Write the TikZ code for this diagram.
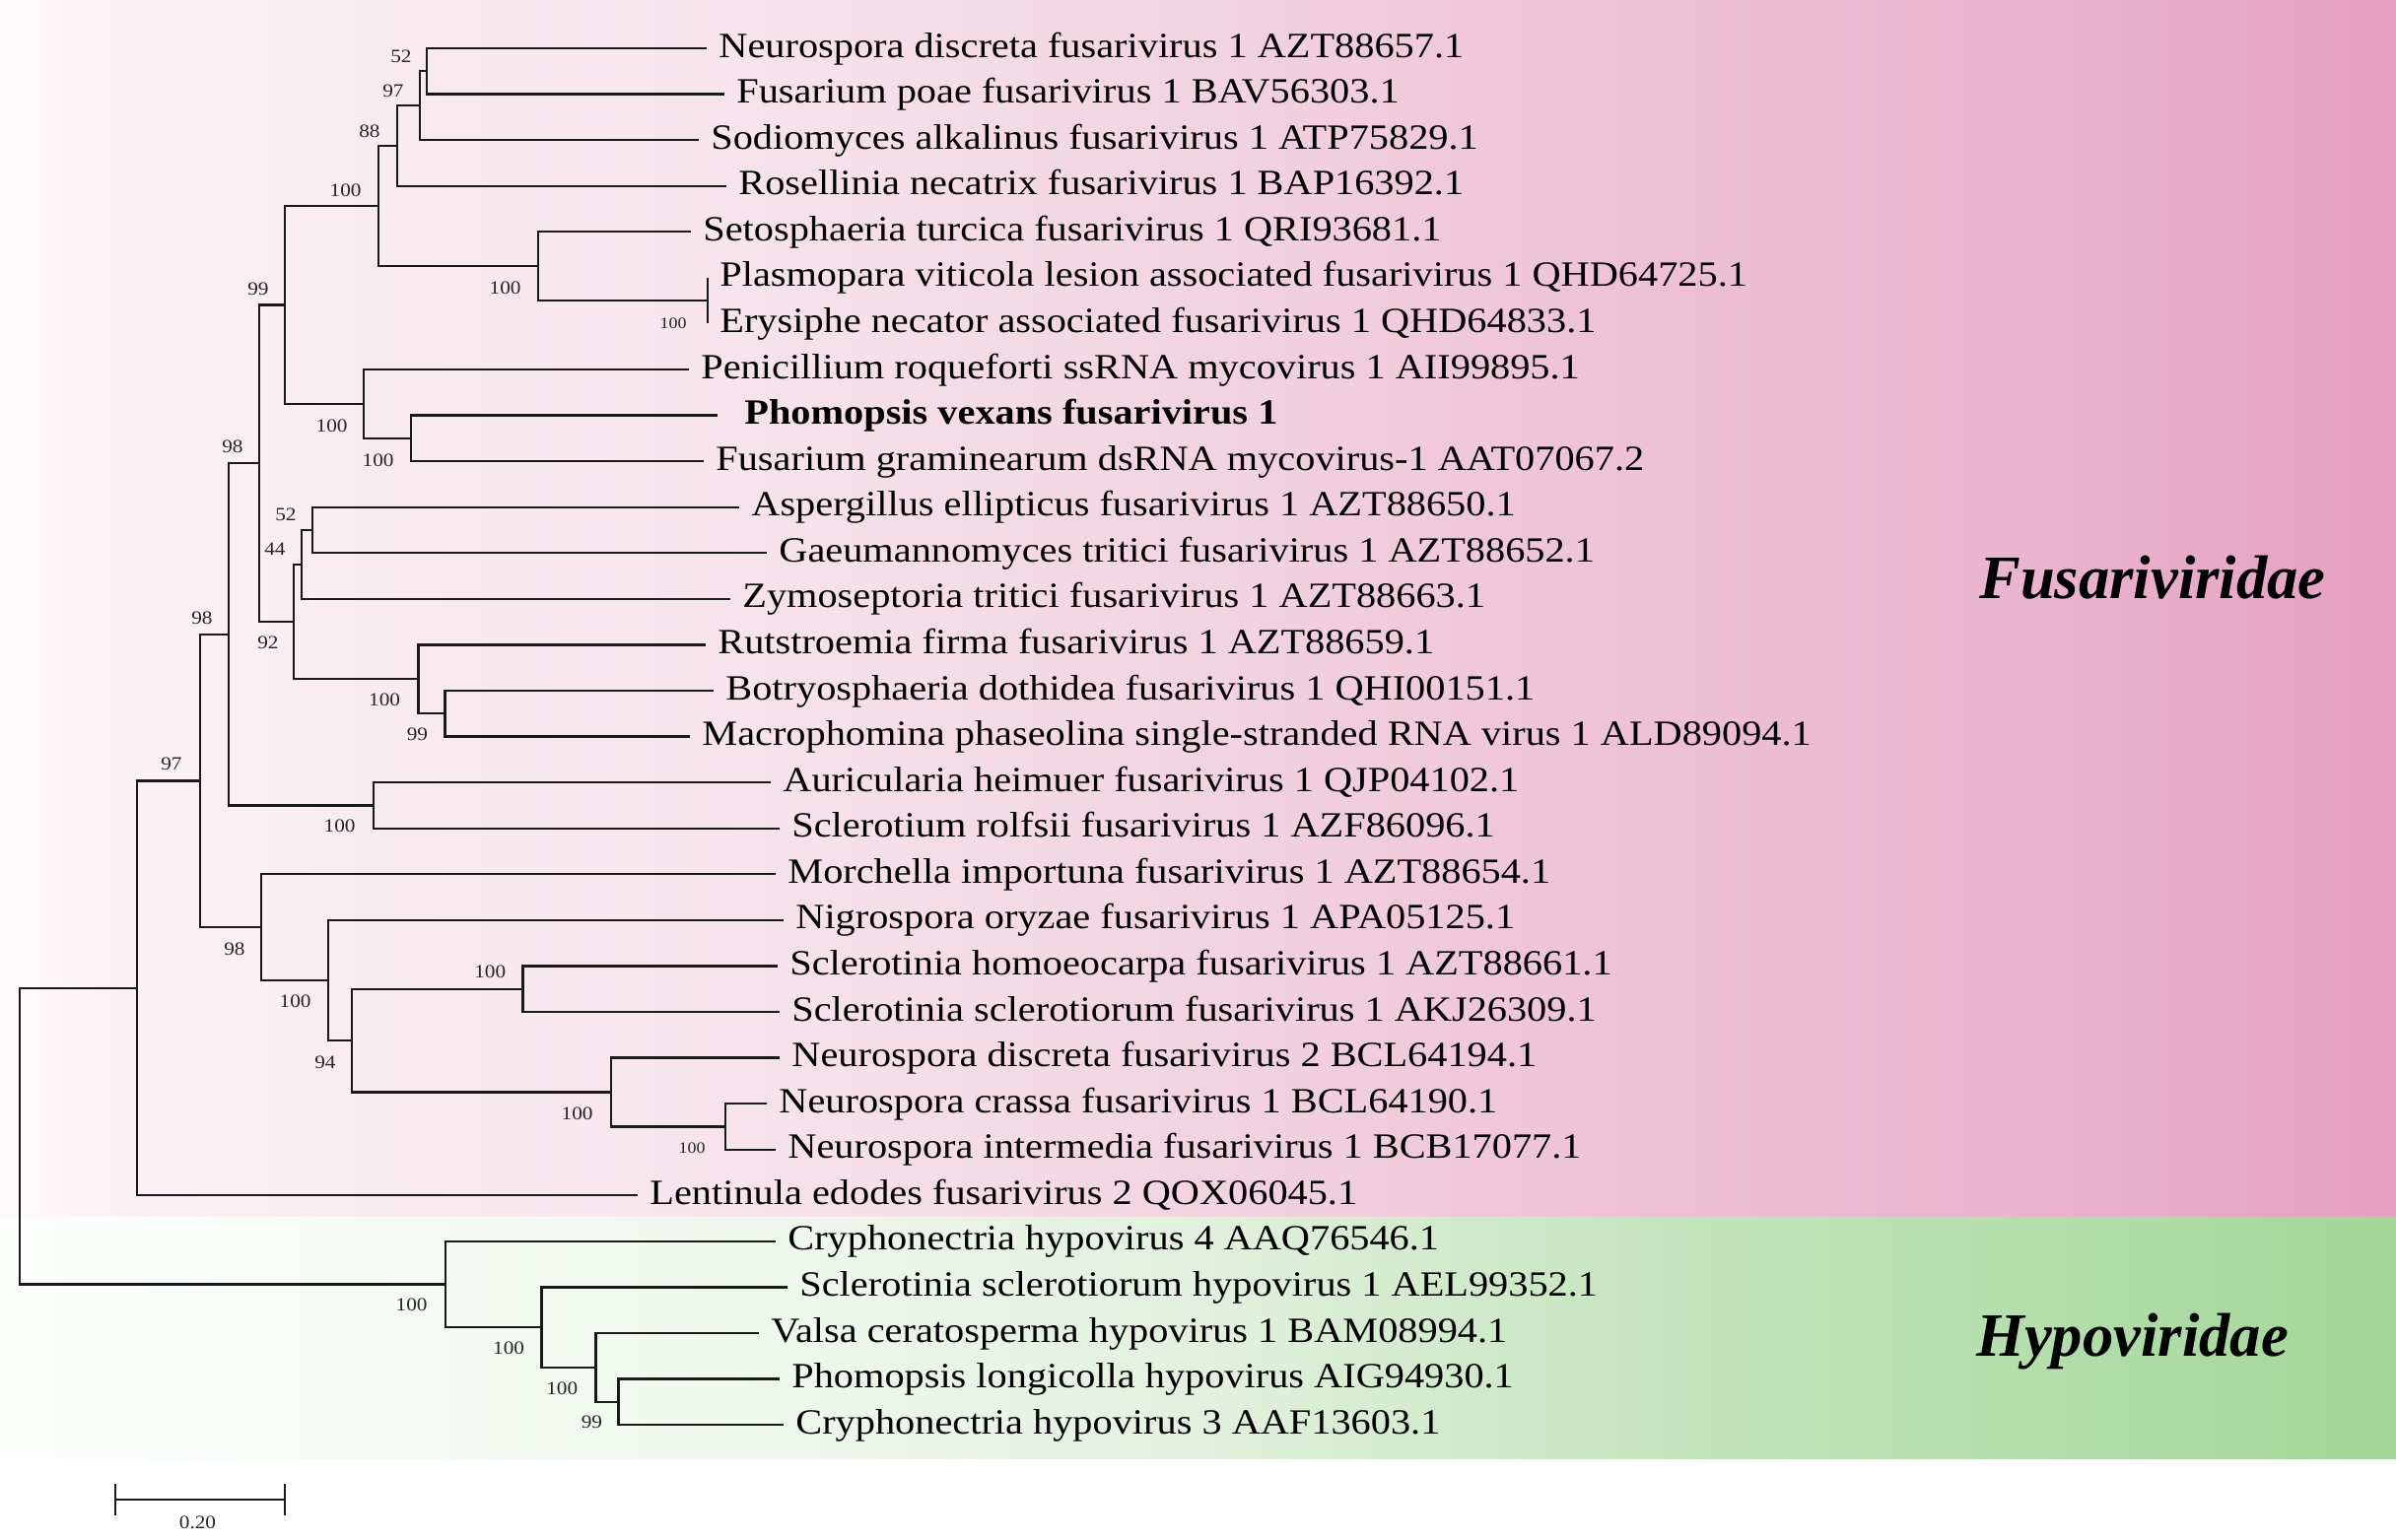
\documentclass[tikz,border=0pt]{standalone}
\usepackage{fontspec}
\setmainfont{Liberation Serif}[FakeStretch=1.12]
\newfontfamily\famfont{Liberation Serif}
\definecolor{pA}{RGB}{254,250,251}
\definecolor{pB}{RGB}{251,242,245}
\definecolor{pC}{RGB}{247,228,236}
\definecolor{pD}{RGB}{242,212,225}
\definecolor{pE}{RGB}{237,192,211}
\definecolor{pF}{RGB}{234,180,204}
\definecolor{pG}{RGB}{229,160,192}
\definecolor{gA}{RGB}{252,254,252}
\definecolor{gC}{RGB}{240,248,238}
\definecolor{gD}{RGB}{226,241,222}
\definecolor{gE}{RGB}{195,228,188}
\definecolor{gF}{RGB}{180,222,172}
\definecolor{gG}{RGB}{162,214,150}
\definecolor{branch}{RGB}{25,25,25}
\pgfdeclarehorizontalshading{pinkshade}{100bp}{color(0bp)=(pA); color(25bp)=(pA); color(27.5bp)=(pB); color(40bp)=(pC); color(50bp)=(pD); color(60bp)=(pE); color(67.5bp)=(pF); color(75bp)=(pG); color(100bp)=(pG)}
\pgfdeclarehorizontalshading{greenshade}{100bp}{color(0bp)=(gA); color(25bp)=(gA); color(40bp)=(gC); color(50bp)=(gD); color(60bp)=(gE); color(67.5bp)=(gF); color(75bp)=(gG); color(100bp)=(gG)}
\begin{document}
\begin{tikzpicture}[x=0.5pt,y=-0.5pt,
  br/.style={line width=1.15pt, draw=branch},
  leaf/.style={anchor=base west, inner sep=0pt, text=black, font=\fontsize{18}{20}\selectfont},
  bs/.style={anchor=east, inner sep=0pt, text=black!85, font=\fontsize{9.5}{10}\selectfont},
  bss/.style={anchor=east, inner sep=0pt, text=black!85, font=\fontsize{8}{9}\selectfont},
  fam/.style={anchor=base west, inner sep=0pt, font=\famfont\bfseries\itshape\fontsize{31.3}{36}\selectfont}]
\useasboundingbox (0,0) rectangle (2431,1563);
% backgrounds
\fill[shading=pinkshade] (0,0) rectangle (2431,1235);
\fill[shading=greenshade] (0,1235) rectangle (2431,1480);
% leaf tips
\coordinate (t0) at (717,49.0);
\coordinate (t1) at (735,95.6);
\coordinate (t2) at (709,142.1);
\coordinate (t3) at (737,188.7);
\coordinate (t4) at (701,235.3);
\coordinate (t5) at (718,281.9);
\coordinate (t6) at (718,328.4);
\coordinate (t7) at (699,375.0);
\coordinate (t8) at (728,421.6);
\coordinate (t9) at (714,468.1);
\coordinate (t10) at (750,514.7);
\coordinate (t11) at (778,561.3);
\coordinate (t12) at (741,607.8);
\coordinate (t13) at (716,654.4);
\coordinate (t14) at (724,701.0);
\coordinate (t15) at (700,747.6);
\coordinate (t16) at (782,794.1);
\coordinate (t17) at (791,840.7);
\coordinate (t18) at (787,887.3);
\coordinate (t19) at (795,933.8);
\coordinate (t20) at (789,980.4);
\coordinate (t21) at (791,1027.0);
\coordinate (t22) at (791,1073.5);
\coordinate (t23) at (778,1120.1);
\coordinate (t24) at (787,1166.7);
\coordinate (t25) at (647,1213.3);
\coordinate (t26) at (787,1259.8);
\coordinate (t27) at (799,1306.4);
\coordinate (t28) at (770,1353.0);
\coordinate (t29) at (791,1399.5);
\coordinate (t30) at (795,1446.1);
% internal nodes
\coordinate (nA) at (433,72.3);
\coordinate (nB) at (426,107.2);
\coordinate (nC) at (403,148.0);
\coordinate (nD) at (384,209.1);
\coordinate (nE) at (546,270.2);
\coordinate (nF) at (718,305.2);
\coordinate (nG) at (289,309.5);
\coordinate (nH) at (369,409.9);
\coordinate (nI) at (417,444.9);
\coordinate (nJ) at (263,470.3);
\coordinate (nK) at (298,631.1);
\coordinate (nL) at (306,572.9);
\coordinate (nN) at (317,538.0);
\coordinate (nM) at (424.5,689.3);
\coordinate (nO) at (451.5,724.3);
\coordinate (nP) at (232,643.9);
\coordinate (nQ) at (379,817.4);
\coordinate (nR) at (203,792.5);
\coordinate (nS) at (265,941.1);
\coordinate (nT) at (333,995.0);
\coordinate (nU) at (357,1056.1);
\coordinate (nV) at (530.6,1003.7);
\coordinate (nW) at (620,1108.5);
\coordinate (nX) at (736,1143.4);
\coordinate (nY) at (139,1002.9);
\coordinate (nZ) at (452,1303.5);
\coordinate (nAA) at (549.5,1347.2);
\coordinate (nAB) at (604.6,1387.9);
\coordinate (nAC) at (627.5,1422.8);
\coordinate (root) at (20,1153.2);
% branches
\draw[br] (t0) -| (nA) |- (t1);
\draw[br] (nA) -| (nB) |- (t2);
\draw[br] (nB) -| (nC) |- (t3);
\draw[br] (nC) -| (nD) |- (nE);
\draw[br] (t4) -| (nE) |- (nF);
\draw[br] (t5) -| (nF) |- (t6);
\draw[br] (nD) -| (nG) |- (nH);
\draw[br] (t7) -| (nH) |- (nI);
\draw[br] (t8) -| (nI) |- (t9);
\draw[br] (nG) -| (nJ) |- (nK);
\draw[br] (nL) -| (nK) |- (nM);
\draw[br] (nN) -| (nL) |- (t12);
\draw[br] (t10) -| (nN) |- (t11);
\draw[br] (t13) -| (nM) |- (nO);
\draw[br] (t14) -| (nO) |- (t15);
\draw[br] (nJ) -| (nP) |- (nQ);
\draw[br] (t16) -| (nQ) |- (t17);
\draw[br] (nP) -| (nR) |- (nS);
\draw[br] (t18) -| (nS) |- (nT);
\draw[br] (t19) -| (nT) |- (nU);
\draw[br] (nV) -| (nU) |- (nW);
\draw[br] (t20) -| (nV) |- (t21);
\draw[br] (t22) -| (nW) |- (nX);
\draw[br] (t23) -| (nX) |- (t24);
\draw[br] (nR) -| (nY) |- (t25);
\draw[br] (t26) -| (nZ) |- (nAA);
\draw[br] (t27) -| (nAA) |- (nAB);
\draw[br] (t28) -| (nAB) |- (nAC);
\draw[br] (t29) -| (nAC) |- (t30);
\draw[br] (nY) -| (root) |- (nZ);
% bootstrap values
\node[bs] (bA) at ([shift={(-15,-15)}]nA) {52};
\node[bs] (bB) at ([shift={(-16,-15)}]nB) {97};
\node[bs] (bC) at ([shift={(-17,-15)}]nC) {88};
\node[bs] (bD) at ([shift={(-17,-16)}]nD) {100};
\node[bs] (bE) at ([shift={(-17,22)}]nE) {100};
\node[bss] (bF) at ([shift={(-21,23)}]nF) {100};
\node[bs] (bG) at ([shift={(-16,-16)}]nG) {99};
\node[bs] (bH) at ([shift={(-16,22)}]nH) {100};
\node[bs] (bI) at ([shift={(-17,22)}]nI) {100};
\node[bs] (bJ) at ([shift={(-16,-17)}]nJ) {98};
\node[bs] (bK) at ([shift={(-15,21)}]nK) {92};
\node[bs] (bL) at ([shift={(-16,-16)}]nL) {44};
\node[bs] (bN) at ([shift={(-16,-16)}]nN) {52};
\node[bs] (bM) at ([shift={(-18,21)}]nM) {100};
\node[bs] (bO) at ([shift={(-17,21)}]nO) {99};
\node[bs] (bP) at ([shift={(-16,-17)}]nP) {98};
\node[bs] (bQ) at ([shift={(-18,21)}]nQ) {100};
\node[bs] (bR) at ([shift={(-18,-17)}]nR) {97};
\node[bs] (bS) at ([shift={(-16,22)}]nS) {98};
\node[bs] (bT) at ([shift={(-17,21)}]nT) {100};
\node[bs] (bU) at ([shift={(-16,22)}]nU) {94};
\node[bs] (bV) at ([shift={(-17,-17)}]nV) {100};
\node[bs] (bW) at ([shift={(-18,22)}]nW) {100};
\node[bss] (bX) at ([shift={(-20,22)}]nX) {100};
\node[bs] (bZ) at ([shift={(-18,21)}]nZ) {100};
\node[bs] (bAA) at ([shift={(-17,21)}]nAA) {100};
\node[bs] (bAB) at ([shift={(-18,21)}]nAB) {100};
\node[bs] (bAC) at ([shift={(-16,20)}]nAC) {99};
% leaf labels
\node[leaf] (l0) at ([shift={(12,9)}]t0) {Neurospora discreta fusarivirus 1 AZT88657.1};
\node[leaf] (l1) at ([shift={(12,9)}]t1) {Fusarium poae fusarivirus 1 BAV56303.1};
\node[leaf] (l2) at ([shift={(12,9)}]t2) {Sodiomyces alkalinus fusarivirus 1 ATP75829.1};
\node[leaf] (l3) at ([shift={(12,9)}]t3) {Rosellinia necatrix fusarivirus 1 BAP16392.1};
\node[leaf] (l4) at ([shift={(12,9)}]t4) {Setosphaeria turcica fusarivirus 1 QRI93681.1};
\node[leaf] (l5) at ([shift={(12,9)}]t5) {Plasmopara viticola lesion associated fusarivirus 1 QHD64725.1};
\node[leaf] (l6) at ([shift={(12,9)}]t6) {Erysiphe necator associated fusarivirus 1 QHD64833.1};
\node[leaf] (l7) at ([shift={(12,9)}]t7) {Penicillium roqueforti ssRNA mycovirus 1 AII99895.1};
\node[leaf] (l8) at ([shift={(27,9)}]t8) {\bfseries Phomopsis vexans fusarivirus 1};
\node[leaf] (l9) at ([shift={(12,9)}]t9) {Fusarium graminearum dsRNA mycovirus-1 AAT07067.2};
\node[leaf] (l10) at ([shift={(12,9)}]t10) {Aspergillus ellipticus fusarivirus 1 AZT88650.1};
\node[leaf] (l11) at ([shift={(12,9)}]t11) {Gaeumannomyces tritici fusarivirus 1 AZT88652.1};
\node[leaf] (l12) at ([shift={(12,9)}]t12) {Zymoseptoria tritici fusarivirus 1 AZT88663.1};
\node[leaf] (l13) at ([shift={(12,9)}]t13) {Rutstroemia firma fusarivirus 1 AZT88659.1};
\node[leaf] (l14) at ([shift={(12,9)}]t14) {Botryosphaeria dothidea fusarivirus 1 QHI00151.1};
\node[leaf] (l15) at ([shift={(12,9)}]t15) {Macrophomina phaseolina single-stranded RNA virus 1 ALD89094.1};
\node[leaf] (l16) at ([shift={(12,9)}]t16) {Auricularia heimuer fusarivirus 1 QJP04102.1};
\node[leaf] (l17) at ([shift={(12,9)}]t17) {Sclerotium rolfsii fusarivirus 1 AZF86096.1};
\node[leaf] (l18) at ([shift={(12,9)}]t18) {Morchella importuna fusarivirus 1 AZT88654.1};
\node[leaf] (l19) at ([shift={(12,9)}]t19) {Nigrospora oryzae fusarivirus 1 APA05125.1};
\node[leaf] (l20) at ([shift={(12,9)}]t20) {Sclerotinia homoeocarpa fusarivirus 1 AZT88661.1};
\node[leaf] (l21) at ([shift={(12,9)}]t21) {Sclerotinia sclerotiorum fusarivirus 1 AKJ26309.1};
\node[leaf] (l22) at ([shift={(12,9)}]t22) {Neurospora discreta fusarivirus 2 BCL64194.1};
\node[leaf] (l23) at ([shift={(12,9)}]t23) {Neurospora crassa fusarivirus 1 BCL64190.1};
\node[leaf] (l24) at ([shift={(12,9)}]t24) {Neurospora intermedia fusarivirus 1 BCB17077.1};
\node[leaf] (l25) at ([shift={(12,9)}]t25) {Lentinula edodes fusarivirus 2 QOX06045.1};
\node[leaf] (l26) at ([shift={(12,9)}]t26) {Cryphonectria hypovirus 4 AAQ76546.1};
\node[leaf] (l27) at ([shift={(12,9)}]t27) {Sclerotinia sclerotiorum hypovirus 1 AEL99352.1};
\node[leaf] (l28) at ([shift={(12,9)}]t28) {Valsa ceratosperma hypovirus 1 BAM08994.1};
\node[leaf] (l29) at ([shift={(12,9)}]t29) {Phomopsis longicolla hypovirus AIG94930.1};
\node[leaf] (l30) at ([shift={(12,9)}]t30) {Cryphonectria hypovirus 3 AAF13603.1};
% family labels
\node[fam] (fus) at (2008,607) {Fusariviridae};
\node[fam] (hyp) at (2005,1376) {Hypoviridae};
% scale bar
\coordinate (sb1) at (117,1522);
\coordinate (sb2) at (289,1522);
\draw[br] (sb1) -- (sb2);
\draw[br] ([yshift=-8]sb1) -- ([yshift=8]sb1);
\draw[br] ([yshift=-8]sb2) -- ([yshift=8]sb2);
\node[bs, anchor=center] (sbl) at (200.5,1545) {0.20};
\end{tikzpicture}
\end{document}
